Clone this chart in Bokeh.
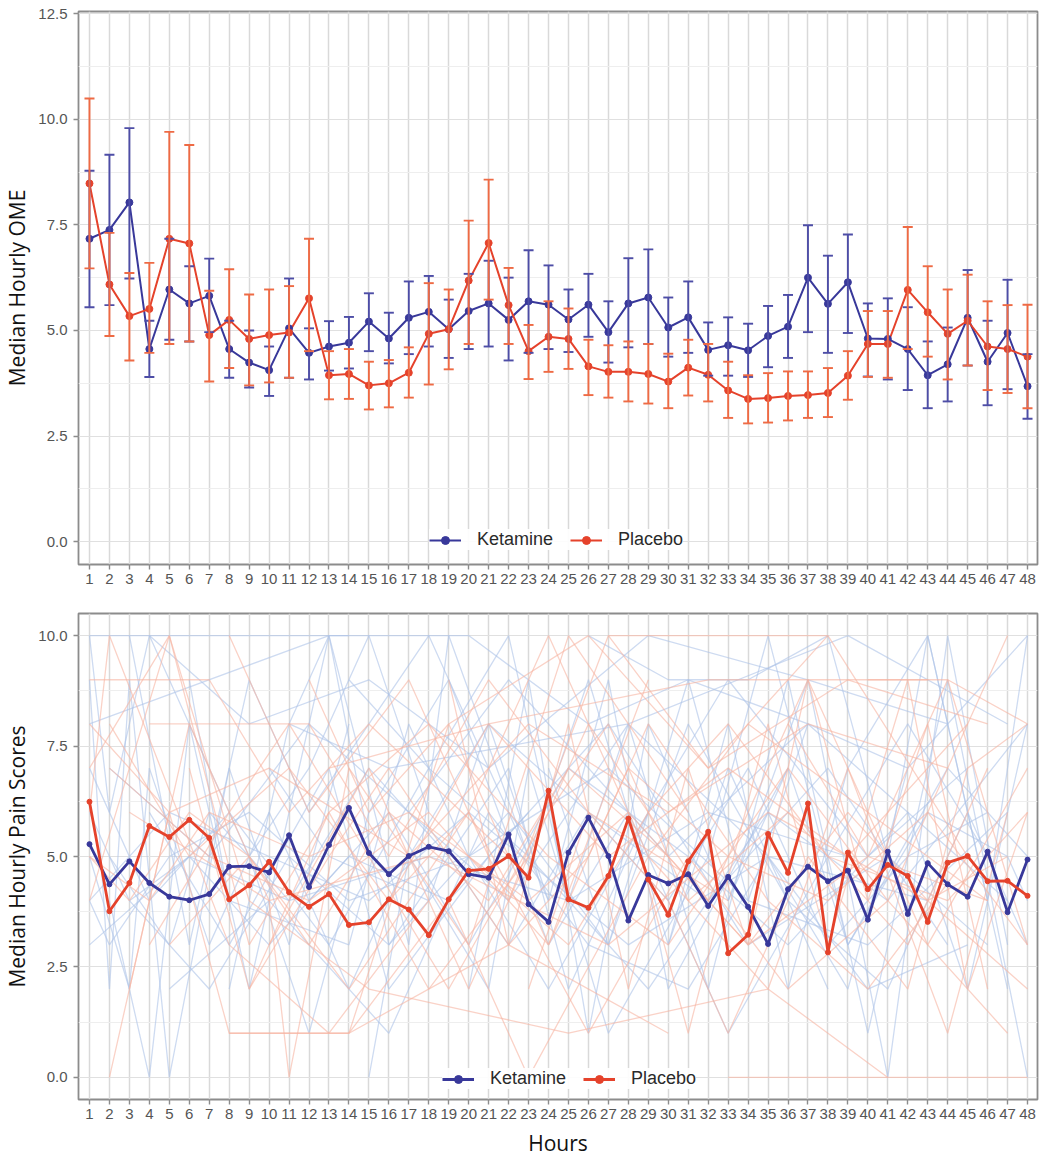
from bokeh.plotting import figure
from bokeh.models import (ColumnDataSource, Whisker, TeeHead, Legend, LegendItem,
                          FixedTicker, PrintfTickFormatter, Range1d)
from bokeh.layouts import column
from bokeh.embed import file_html
from bokeh.resources import INLINE

# ---------------- data ----------------
hours = list(range(1, 49))

ome_ket = [7.17, 7.38, 8.03, 4.56, 5.97, 5.64, 5.82, 4.56, 4.24, 4.06,
           5.05, 4.47, 4.62, 4.71, 5.21, 4.81, 5.30, 5.44, 5.03, 5.46,
           5.64, 5.25, 5.69, 5.61, 5.26, 5.61, 4.96, 5.64, 5.78, 5.07,
           5.31, 4.54, 4.65, 4.53, 4.87, 5.09, 6.25, 5.63, 6.14, 4.81,
           4.80, 4.56, 3.94, 4.20, 5.30, 4.26, 4.94, 3.68]
ome_ket_hi = [8.78, 9.16, 9.79, 5.23, 7.17, 6.52, 6.70, 5.23, 5.00, 4.62,
              6.23, 5.05, 5.22, 5.32, 5.88, 5.42, 6.16, 6.29, 5.73, 6.34,
              6.65, 6.25, 6.90, 6.54, 5.97, 6.34, 5.69, 6.71, 6.92, 5.78,
              6.16, 5.19, 5.31, 5.16, 5.58, 5.84, 7.49, 6.77, 7.27, 5.64,
              5.76, 5.55, 4.74, 5.07, 6.43, 5.23, 6.20, 4.44]
ome_ket_lo = [5.55, 5.60, 6.23, 3.90, 4.78, 4.74, 4.96, 3.88, 3.65, 3.45,
              3.88, 3.84, 4.05, 4.10, 4.51, 4.22, 4.44, 4.62, 4.35, 4.56,
              4.62, 4.29, 4.47, 4.56, 4.49, 4.85, 4.24, 4.60, 4.68, 4.38,
              4.47, 3.93, 3.93, 3.90, 4.13, 4.35, 4.96, 4.47, 4.94, 3.91,
              3.84, 3.59, 3.16, 3.32, 4.17, 3.23, 3.61, 2.91]

ome_pla = [8.48, 6.09, 5.34, 5.51, 7.17, 7.06, 4.89, 5.25, 4.80, 4.89,
           4.95, 5.76, 3.94, 3.97, 3.70, 3.75, 4.00, 4.92, 5.03, 6.18,
           7.07, 5.60, 4.51, 4.85, 4.80, 4.15, 4.02, 4.02, 3.97, 3.79,
           4.12, 3.95, 3.58, 3.38, 3.40, 3.45, 3.47, 3.52, 3.93, 4.68,
           4.68, 5.96, 5.43, 4.92, 5.23, 4.62, 4.56, 4.38]
ome_pla_hi = [10.49, 7.31, 6.36, 6.60, 9.70, 9.39, 5.94, 6.45, 5.85, 5.97,
              6.05, 7.17, 4.51, 4.56, 4.26, 4.30, 4.60, 6.12, 5.97, 7.60,
              8.57, 6.48, 5.13, 5.69, 5.52, 4.78, 4.65, 4.74, 4.68, 4.45,
              4.78, 4.68, 4.26, 3.94, 3.99, 4.03, 4.03, 4.11, 4.51, 5.46,
              5.46, 7.45, 6.52, 5.97, 6.32, 5.69, 5.60, 5.61]
ome_pla_lo = [6.47, 4.87, 4.29, 4.47, 4.68, 4.74, 3.79, 4.11, 3.70, 3.77,
              3.88, 4.51, 3.37, 3.38, 3.13, 3.18, 3.41, 3.72, 4.08, 4.68,
              5.73, 4.68, 3.85, 4.02, 4.09, 3.47, 3.41, 3.32, 3.27, 3.16,
              3.46, 3.32, 2.93, 2.80, 2.82, 2.87, 2.93, 2.95, 3.36, 3.90,
              3.88, 4.56, 4.38, 3.84, 4.17, 3.59, 3.52, 3.16]

pain_ket = [5.28, 4.37, 4.89, 4.40, 4.09, 4.01, 4.15, 4.77, 4.78, 4.64,
            5.48, 4.31, 5.26, 6.10, 5.08, 4.60, 5.01, 5.22, 5.12, 4.60,
            4.52, 5.50, 3.92, 3.52, 5.09, 5.88, 5.01, 3.55, 4.58, 4.39,
            4.60, 3.88, 4.54, 3.86, 3.02, 4.26, 4.77, 4.44, 4.68, 3.57,
            5.11, 3.70, 4.85, 4.37, 4.09, 5.11, 3.74, 4.93]
pain_pla = [6.24, 3.76, 4.40, 5.69, 5.44, 5.83, 5.42, 4.03, 4.35, 4.88,
            4.19, 3.86, 4.15, 3.45, 3.51, 4.03, 3.80, 3.22, 4.03, 4.68,
            4.72, 5.01, 4.52, 6.49, 4.03, 3.84, 4.56, 5.86, 4.48, 3.68,
            4.89, 5.56, 2.81, 3.23, 5.51, 4.63, 6.20, 2.83, 5.09, 4.26,
            4.81, 4.56, 3.52, 4.86, 5.01, 4.44, 4.45, 4.11]

# individual patient pain trajectories (background)
ket_ind_hours = [
    [1, 13, 20, 26, 31, 37], [1, 2, 4, 6, 9, 12, 15, 18], [1, 2, 3, 5, 8, 11, 14],
    [1, 3, 4, 7, 10, 14, 17, 21, 24], [2, 4, 6, 9, 13, 16, 22, 25, 29],
    [1, 5, 10, 15, 20, 28, 35, 43], [3, 6, 9, 12, 18, 24, 27, 30, 36],
    [8, 11, 13, 17, 19, 23, 26, 30, 33, 38], [14, 18, 22, 25, 28, 32, 36, 40, 44, 48],
    [20, 23, 26, 29, 33, 37, 41, 44, 47], [24, 27, 31, 34, 37, 42, 45, 48],
    [30, 33, 36, 39, 43, 46, 48], [2, 7, 12, 17, 22, 30, 37, 42],
    [5, 10, 16, 21, 26, 31, 35, 40, 45], [9, 12, 15, 19, 24, 28, 33, 38, 42, 46],
    [26, 30, 34, 38, 41, 43, 47], [1, 6, 11, 18, 25, 32, 39],
    [12, 16, 20, 25, 31, 36, 42, 47], [4, 8, 13, 16, 21, 27, 34, 41, 46],
    [15, 17, 21, 23, 27, 32, 35, 39, 44, 48], [33, 36, 39, 43, 47, 48],
    [1, 3, 6, 10, 14, 19, 23], [1, 10, 14], [11, 16, 28, 39, 47],
    [2, 5, 7, 11, 15, 19, 22, 26, 30, 34, 38, 42, 46], [1, 4, 8, 13, 18, 23, 29, 35, 41, 48],
    [6, 8, 14, 17, 20, 24, 29, 33, 40, 45], [3, 7, 11, 16, 22, 27, 31, 36, 41, 45, 48],
    [10, 13, 18, 21, 26, 32, 38, 44], [1, 2, 5, 9, 14, 20, 27, 34, 40, 47],
    [17, 22, 28, 35, 39, 42, 46, 48], [4, 9, 15, 21, 29, 37, 44]]
ket_ind_scores = [
    [8, 10, 10, 8, 9, 8], [10, 6, 10, 8, 5, 7, 10, 6], [9, 2, 9, 0, 7, 3, 8],
    [5, 2, 7, 3, 6, 2, 5, 8, 4], [4, 0, 8, 2, 10, 3, 7, 2, 6],
    [4, 6, 5, 4, 6, 3, 5, 4], [10, 3, 9, 6, 10, 4, 9, 2, 7],
    [2, 8, 10, 3, 10, 5, 9, 3, 7, 2], [9, 7, 10, 4, 8, 2, 9, 1, 9, 0],
    [2, 9, 1, 8, 4, 9, 0, 10, 3], [7, 3, 9, 4, 8, 6, 2, 8],
    [3, 8, 2, 7, 10, 4, 10], [7, 5, 8, 6, 9, 5, 8, 7],
    [2, 4, 1, 6, 3, 2, 5, 2, 3], [5, 1, 6, 9, 3, 6, 1, 5, 8, 5],
    [10, 9, 9, 10, 5, 10, 2], [3, 5, 4, 5, 4, 6, 5],
    [4, 6, 3, 7, 5, 3, 6, 4], [6, 3, 7, 2, 5, 8, 3, 5, 3],
    [0, 5, 2, 7, 1, 5, 10, 3, 7, 5], [4, 7, 3, 6, 5, 4],
    [6, 4, 5, 3, 5, 4, 6], [10, 10, 10], [8, 7, 8, 10, 8],
    [5, 3, 6, 4, 7, 5, 3, 6, 4, 7, 3, 5, 6], [7, 4, 6, 3, 7, 5, 2, 6, 4, 8],
    [9, 4, 3, 8, 5, 2, 6, 9, 5, 7], [4, 2, 5, 3, 6, 3, 8, 4, 2, 6, 3],
    [7, 5, 4, 8, 6, 4, 7, 3], [4, 3, 5, 6, 4, 5, 7, 4, 3, 6],
    [6, 4, 8, 5, 2, 7, 9, 10], [10, 8, 9, 7, 10, 9, 8]]

pla_ind_hours = [
    [1, 7, 11, 15, 22], [4, 12, 16, 21, 26, 33], [1, 3, 5, 9, 13, 18, 23],
    [2, 5, 8, 14, 19, 24, 29], [3, 6, 10, 11, 14, 20, 25, 31],
    [8, 12, 17, 22, 27, 32, 38], [27, 38, 45], [33, 48],
    [6, 9, 13, 18, 24, 30, 36, 41, 47], [1, 4, 7, 12, 17, 23, 28, 34, 40, 46],
    [10, 15, 20, 26, 32, 37, 43, 48], [14, 19, 23, 29, 35, 39, 44, 47],
    [19, 22, 25, 28, 31, 34, 37, 40, 43, 46], [2, 6, 11, 16, 21, 27, 33, 39, 45],
    [28, 31, 35, 38, 42, 45, 48], [5, 9, 14, 20, 26, 31, 36, 41, 47],
    [1, 2, 8, 13, 18], [36, 40, 44, 48], [16, 20, 24, 29, 34, 40, 46],
    [23, 26, 30, 33, 37, 42, 45, 48], [8, 14, 22, 30], [40, 44, 48],
    [1, 5, 9, 15, 25, 35, 41], [13, 21, 32, 43],
    [1, 3, 6, 9, 12, 16, 21, 25, 30, 34, 39, 43, 47], [2, 7, 12, 18, 24, 28, 33, 38, 43, 48],
    [4, 8, 11, 15, 19, 24, 27, 31, 36, 42, 46], [1, 5, 10, 17, 23, 30, 37, 44],
    [9, 13, 16, 22, 26, 29, 35, 40, 45], [20, 25, 29, 33, 38, 44, 48],
    [3, 10, 18, 27, 35, 43, 48], [12, 15, 19, 26, 32, 39, 46]]
pla_ind_scores = [
    [9, 9, 6, 8, 5], [8, 8, 5, 9, 6, 4], [4, 7, 10, 3, 6, 2, 5],
    [0, 6, 1, 1, 8, 3, 9], [2, 8, 4, 0, 7, 3, 10, 6],
    [10, 6, 9, 4, 10, 7, 10], [10, 10, 5], [0, 0],
    [7, 2, 6, 8, 5, 3, 7, 4, 10], [5, 4, 6, 5, 6, 4, 6, 3, 5, 4],
    [3, 7, 2, 8, 4, 9, 3, 7], [1, 4, 0, 5, 2, 7, 1, 6],
    [9, 3, 8, 2, 7, 3, 9, 4, 8, 2], [8, 5, 7, 4, 8, 5, 7, 5, 8],
    [6, 1, 8, 3, 9, 2, 6], [3, 5, 2, 6, 1, 5, 2, 4, 1],
    [6, 10, 3, 1, 4], [8, 5, 9, 3], [4, 6, 10, 5, 8, 6, 4],
    [2, 6, 4, 1, 5, 2, 7, 8], [1, 1, 3, 1], [9, 9, 8],
    [7, 10, 4, 2, 1, 2, 0], [7, 8, 9, 9],
    [5, 4, 6, 5, 3, 6, 4, 7, 5, 3, 6, 4, 5], [7, 5, 4, 6, 3, 7, 5, 4, 6, 3],
    [3, 6, 8, 5, 2, 6, 8, 4, 6, 3, 7], [8, 6, 7, 5, 8, 6, 8, 7],
    [2, 5, 7, 3, 5, 8, 4, 2, 5], [5, 3, 6, 8, 5, 4, 6],
    [6, 4, 5, 3, 6, 4, 2], [9, 6, 8, 10, 7, 9, 8]]

group_names = ["Ketamine", "Placebo"]

# ---------------- styling ----------------
KET = "#38389a"
PLA = "#e5422b"
KET_BAR = "#4d4da6"
PLA_BAR = "#ee6a44"
KET_LIGHT = "#adc3e8"
PLA_LIGHT = "#f6b4a2"
FRAME = "#8c8c8c"
TICK_FONT = "Liberation Sans"


def style(p, yticks, yminor, ylabel, xlabel=None):
    p.background_fill_color = "white"
    p.border_fill_color = "white"
    p.outline_line_color = FRAME
    p.outline_line_width = 1.8
    xt = FixedTicker(ticks=hours)
    yt = FixedTicker(ticks=yticks, minor_ticks=yminor)
    p.xaxis.ticker = xt
    p.xgrid.ticker = xt
    p.yaxis.ticker = yt
    p.ygrid.ticker = yt
    p.yaxis.formatter = PrintfTickFormatter(format="%.1f")
    p.xgrid.grid_line_color = "#d9d9d9"
    p.xgrid.grid_line_width = 1.5
    p.ygrid.grid_line_color = "#e0e0e0"
    p.ygrid.grid_line_width = 1.1
    p.ygrid.minor_grid_line_color = "#eeeeee"
    p.ygrid.minor_grid_line_width = 1.0
    for ax in (p.xaxis[0], p.yaxis[0]):
        ax.axis_line_color = None
        ax.major_tick_line_color = FRAME
        ax.major_tick_line_width = 1.4
        ax.major_tick_out = 5
        ax.major_tick_in = 0
        ax.minor_tick_line_color = None
        ax.major_label_text_font = TICK_FONT
        ax.major_label_text_color = "#555555"
        ax.major_label_text_font_size = "15px"
        ax.axis_label_text_font = "Open Sans"
        ax.axis_label_text_font_style = "normal"
        ax.axis_label_text_color = "#111111"
        ax.axis_label_text_font_size = "21px"
    p.xaxis.major_label_standoff = 4
    p.yaxis.major_label_standoff = 6
    p.yaxis.axis_label = ylabel
    p.yaxis.axis_label_standoff = 4
    if xlabel:
        p.xaxis.axis_label = xlabel
        p.xaxis.axis_label_standoff = 7


def add_legend(p, r_ket, r_pla, loc):
    leg = Legend(items=[LegendItem(label=group_names[0], renderers=r_ket),
                        LegendItem(label=group_names[1], renderers=r_pla)],
                 orientation="horizontal", location=loc)
    leg.label_text_font = TICK_FONT
    leg.label_text_font_size = "18px"
    leg.label_text_color = "#2a2a2a"
    leg.glyph_width = 32
    leg.label_standoff = 16
    leg.spacing = 17
    leg.padding = 8
    leg.background_fill_color = "white"
    leg.background_fill_alpha = 0.9
    leg.border_line_color = None
    p.add_layout(leg)


# ---------------- top panel ----------------
p1 = figure(width=1039, height=594, output_backend="svg", toolbar_location=None,
            x_range=Range1d(0.45, 48.5), y_range=Range1d(-0.54, 12.55),
            min_border_left=78, min_border_right=2, min_border_top=11, min_border_bottom=30)
style(p1, [0, 2.5, 5, 7.5, 10, 12.5], [1.25, 3.75, 6.25, 8.75, 11.25], "Median Hourly OME")

src_k = ColumnDataSource(dict(x=hours, y=ome_ket, lo=ome_ket_lo, hi=ome_ket_hi))
src_p = ColumnDataSource(dict(x=hours, y=ome_pla, lo=ome_pla_lo, hi=ome_pla_hi))

for src, col in ((src_k, KET_BAR), (src_p, PLA_BAR)):
    w = Whisker(source=src, base="x", upper="hi", lower="lo", dimension="height",
                line_color=col, line_width=1.9,
                upper_head=TeeHead(size=10, line_color=col, line_width=1.9),
                lower_head=TeeHead(size=10, line_color=col, line_width=1.9))
    w.level = "glyph"
    p1.add_layout(w)

lk = p1.line("x", "y", source=src_k, line_color=KET, line_width=2)
lp = p1.line("x", "y", source=src_p, line_color=PLA, line_width=2)
sk = p1.scatter("x", "y", source=src_k, size=7, fill_color=KET, line_color=KET)
sp = p1.scatter("x", "y", source=src_p, size=7, fill_color=PLA, line_color=PLA)
add_legend(p1, [lk, sk], [lp, sp], (351, 14))

# ---------------- bottom panel ----------------
p2 = figure(width=1039, height=565, output_backend="svg", toolbar_location=None,
            x_range=Range1d(0.45, 48.5), y_range=Range1d(-0.5, 10.5),
            min_border_left=78, min_border_right=2, min_border_top=19, min_border_bottom=52)
style(p2, [0, 2.5, 5, 7.5, 10], [1.25, 3.75, 6.25, 8.75], "Median Hourly Pain Scores", "Hours")

p2.multi_line(xs=ket_ind_hours, ys=ket_ind_scores, line_color=KET_LIGHT, line_width=1.3, line_alpha=0.6)
p2.multi_line(xs=pla_ind_hours, ys=pla_ind_scores, line_color=PLA_LIGHT, line_width=1.3, line_alpha=0.6)

src_pk = ColumnDataSource(dict(x=hours, y=pain_ket))
src_pp = ColumnDataSource(dict(x=hours, y=pain_pla))
lk2 = p2.line("x", "y", source=src_pk, line_color=KET, line_width=2.8)
lp2 = p2.line("x", "y", source=src_pp, line_color=PLA, line_width=2.8)
sk2 = p2.scatter("x", "y", source=src_pk, size=5, fill_color=KET, line_color=KET)
sp2 = p2.scatter("x", "y", source=src_pp, size=5, fill_color=PLA, line_color=PLA)
add_legend(p2, [lk2, sk2], [lp2, sp2], (364, 10))

layout = column(p1, p2)
open("out.html", "w").write(file_html(layout, INLINE))
